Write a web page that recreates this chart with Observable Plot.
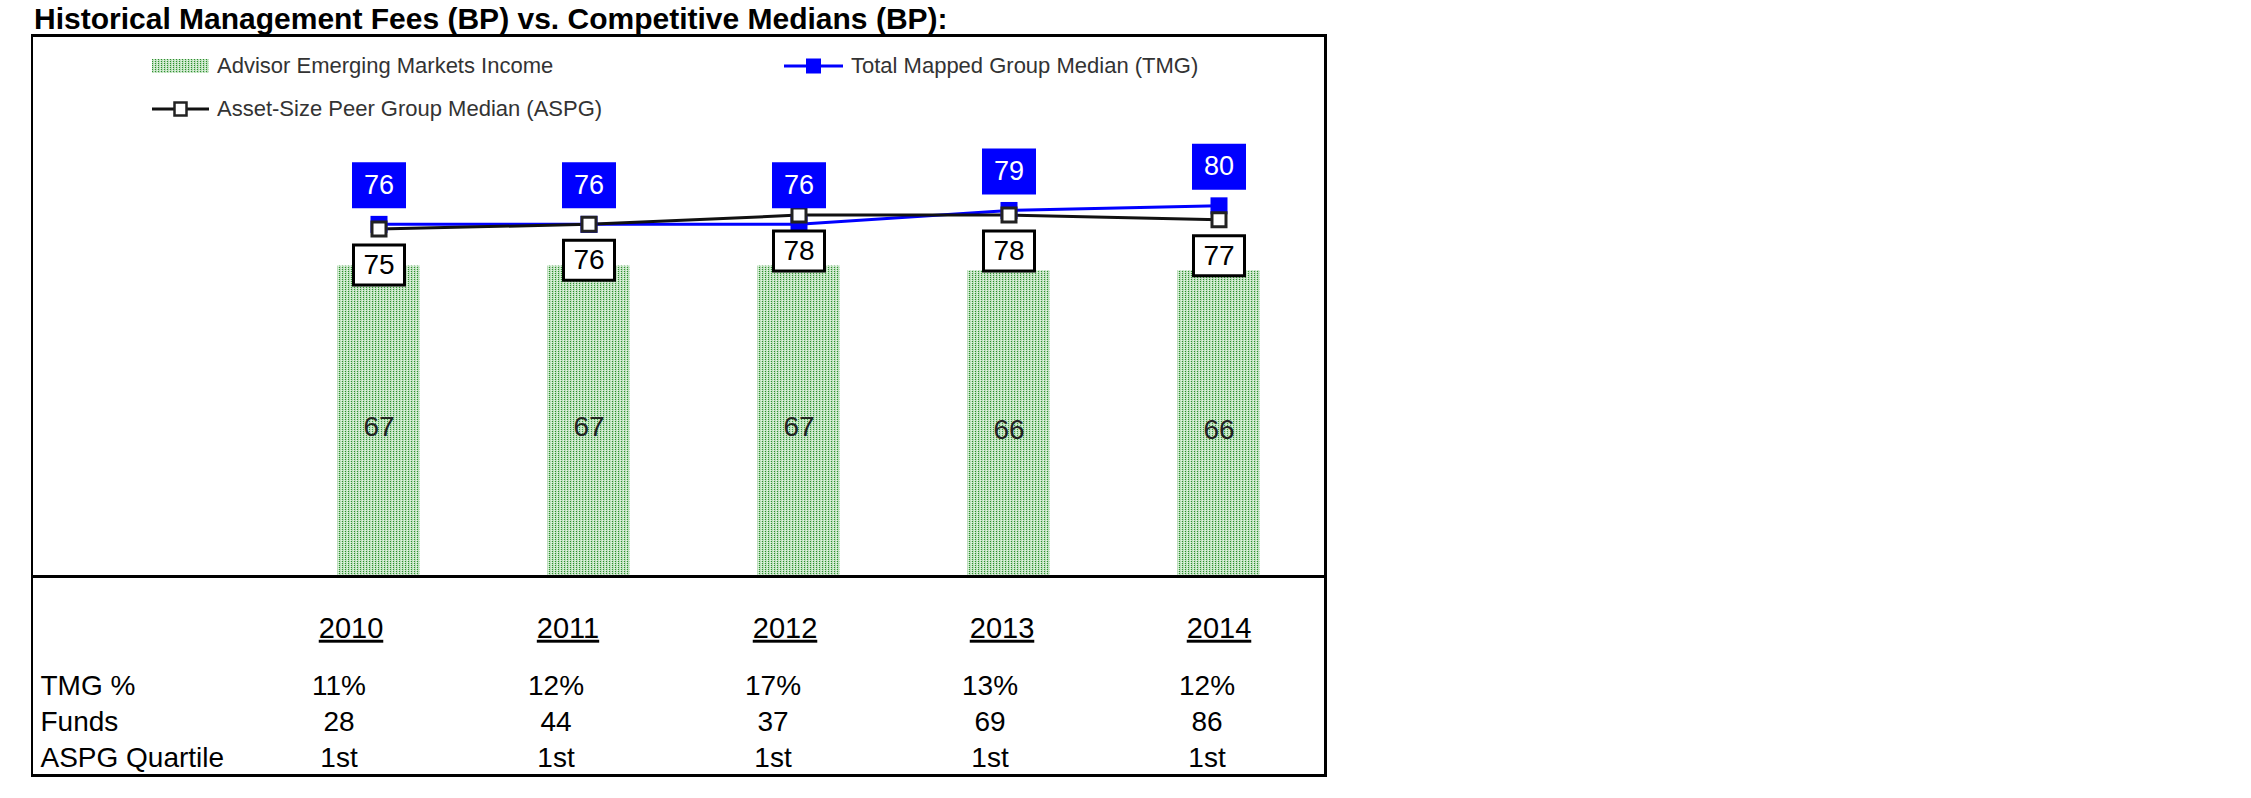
<!DOCTYPE html>
<html><head><meta charset="utf-8">
<script src="https://cdn.jsdelivr.net/npm/d3@7"></script>
<script src="https://cdn.jsdelivr.net/npm/@observablehq/plot@0.6"></script>
<style>
html,body{margin:0;padding:0;background:#fff;}
body{width:2251px;height:798px;position:relative;overflow:hidden;font-family:"Liberation Sans",Arial,sans-serif;}
#title{position:absolute;left:34px;top:3px;font-size:30px;line-height:32px;font-weight:bold;color:#000;white-space:nowrap;}
#box{position:absolute;left:31px;top:34px;width:1296px;height:743px;box-sizing:border-box;border-top:3px solid #000;border-left:2px solid #000;border-right:3px solid #000;border-bottom:3px solid #000;}
.leg{position:absolute;display:flex;align-items:center;height:24px;font-size:22px;color:#333;white-space:nowrap;}
.leg svg{display:block;margin-right:8px;}
#chart{position:absolute;left:0;top:88px;}
#table{position:absolute;left:0;top:543px;}
</style></head>
<body>
<div id="title"></div>
<div id="box"><div id="legend"></div><div id="chart"></div><div id="table"></div></div>
<script>
// ---- data ----
const titleText = "Historical Management Fees (BP) vs. Competitive Medians (BP):";
const years = ["2010", "2011", "2012", "2013", "2014"];
const advisor = [67, 67, 67, 66, 66];
const tmg = [76, 76, 76, 79, 80];
const aspg = [75, 76, 78, 78, 77];
const tmgPct = ["11%", "12%", "17%", "13%", "12%"];
const funds = [28, 44, 37, 69, 86];
const quartile = ["1st", "1st", "1st", "1st", "1st"];
const rowLabels = ["TMG %", "Funds", "ASPG Quartile"];
const seriesNames = ["Advisor Emerging Markets Income", "Total Mapped Group Median (TMG)", "Asset-Size Peer Group Median (ASPG)"];

const BLUE = "#0000ff";
const FONT = "'Liberation Sans', Arial, sans-serif";

document.getElementById("title").textContent = titleText;

// ---- legend ----
const patternDef = (id) => `<pattern id="${id}" width="3" height="2" patternUnits="userSpaceOnUse"><rect width="3" height="2" fill="#bcdfbc"/><rect width="1" height="1" fill="#2f8f2f"/><rect x="2" y="1" width="1" height="1" fill="#e6f4e6"/></pattern>`;
const legendItems = [
  {left: 119, top: 17, name: seriesNames[0], svg: `<svg width="57" height="14"><defs>${patternDef("legDots")}</defs><rect width="57" height="14" fill="url(#legDots)"/></svg>`},
  {left: 751, top: 17, name: seriesNames[1], svg: `<svg width="59" height="20"><line x1="0" x2="59" y1="10" y2="10" stroke="${BLUE}" stroke-width="3"/><rect x="22" y="2.5" width="15" height="15" fill="${BLUE}"/></svg>`},
  {left: 119, top: 60, name: seriesNames[2], svg: `<svg width="57" height="20"><line x1="0" x2="57" y1="10" y2="10" stroke="#111" stroke-width="3"/><rect x="22.5" y="3.5" width="12" height="13" fill="#fff" stroke="#222" stroke-width="2.5"/></svg>`}
];
const legend = document.getElementById("legend");
for (const it of legendItems) {
  const d = document.createElement("div");
  d.className = "leg";
  d.style.left = it.left + "px";
  d.style.top = it.top + "px";
  d.innerHTML = it.svg + `<span>${it.name}</span>`;
  legend.appendChild(d);
}

// ---- chart ----
const data = years.map((year, i) => ({year, advisor: advisor[i], tmg: tmg[i], aspg: aspg[i]}));
const rectSym = (w, h) => ({draw(ctx) { ctx.rect(-w / 2, -h / 2, w, h); }});

const chart = Plot.plot({
  width: 1291, height: 455,
  marginTop: 34, marginBottom: 4, marginLeft: 0, marginRight: 0,
  style: {fontFamily: FONT, background: "transparent", overflow: "visible"},
  x: {type: "band", domain: years, range: [240, 1290], paddingInner: 0.605, paddingOuter: 0.3025, axis: null},
  y: {domain: [0, 90], axis: null},
  marks: [
    Plot.barY(data, {x: "year", y: "advisor", fill: "url(#barDots)"}),
    Plot.text(data, {x: "year", y: d => d.advisor / 2, text: d => String(d.advisor), fontSize: 28, fill: "#222", dy: 6}),
    Plot.ruleY([0], {stroke: "#000", strokeWidth: 3}),
    Plot.line(data, {x: "year", y: "tmg", stroke: BLUE, strokeWidth: 3}),
    Plot.line(data, {x: "year", y: "aspg", stroke: "#111", strokeWidth: 3}),
    Plot.dot(data, {x: "year", y: "tmg", symbol: rectSym(17, 17), fill: BLUE}),
    Plot.dot(data, {x: "year", y: "aspg", symbol: rectSym(14, 14), fill: "#fff", stroke: "#222", strokeWidth: 3}),
    Plot.dot(data, {x: "year", y: "tmg", symbol: rectSym(54, 46), fill: BLUE, dy: -39}),
    Plot.text(data, {x: "year", y: "tmg", text: d => String(d.tmg), fill: "#fff", fontSize: 27, dy: -39}),
    Plot.dot(data, {x: "year", y: "aspg", symbol: rectSym(51, 40), fill: "#fff", stroke: "#000", strokeWidth: 3, dy: 36}),
    Plot.text(data, {x: "year", y: "aspg", text: d => String(d.aspg), fill: "#000", fontSize: 28, dy: 36})
  ]
});
d3.select(chart).insert("defs", ":first-child").html(patternDef("barDots"));
document.getElementById("chart").appendChild(chart);

// ---- table below the chart ----
const cells = years.flatMap((year, i) => [
  {row: rowLabels[0], year, value: tmgPct[i]},
  {row: rowLabels[1], year, value: String(funds[i])},
  {row: rowLabels[2], year, value: quartile[i]}
]);
const table = Plot.plot({
  width: 1291, height: 194,
  marginTop: 0, marginBottom: 0, marginLeft: 0, marginRight: 0,
  style: {fontFamily: FONT, background: "transparent", overflow: "visible"},
  x: {type: "band", domain: years, range: [196.5, 1281.5], paddingInner: 0.6, paddingOuter: 0.3, axis: null},
  y: {type: "point", domain: rowLabels, range: [105, 178], padding: 0, axis: null},
  marks: [
    Plot.text(years, {x: d => d, text: d => d, frameAnchor: "top", lineAnchor: "middle", dy: 48, dx: 12, fontSize: 29, fill: "#000"}),
    Plot.text(cells, {x: "year", y: "row", text: "value", lineAnchor: "middle", fontSize: 28, fill: "#000"}),
    Plot.text(rowLabels, {y: d => d, text: d => d, frameAnchor: "left", textAnchor: "start", lineAnchor: "middle", dx: 7, fontSize: 28, fill: "#000"})
  ]
});
d3.select(table).selectAll("text").filter(function () { return years.includes(this.textContent); })
  .style("text-decoration", "underline");
document.getElementById("table").appendChild(table);
</script>
</body></html>
